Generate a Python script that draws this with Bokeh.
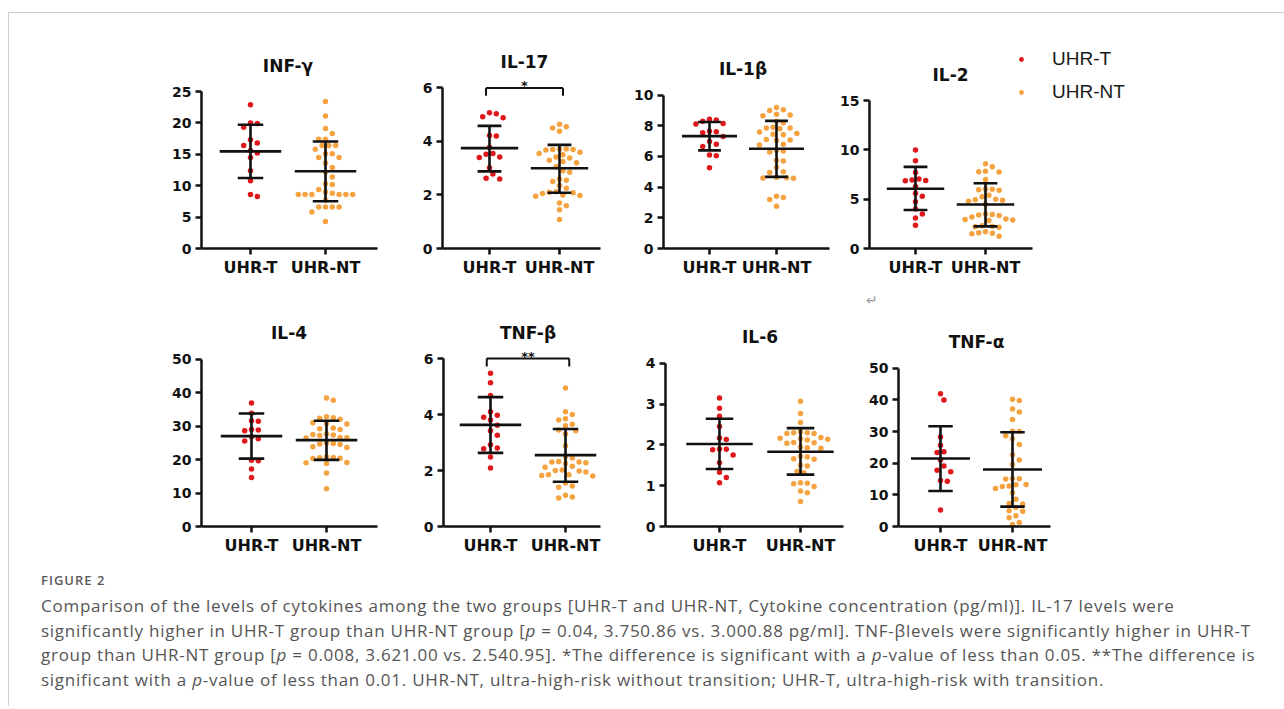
import numpy as np
from bokeh.plotting import figure
from bokeh.models import FixedTicker, Label, Arrow, Legend, LegendItem, Div, Spacer, ColumnDataSource
from bokeh.layouts import row, column
from bokeh.embed import file_html
from bokeh.resources import INLINE

# ---------------- data ----------------
groups = ["UHR-T", "UHR-NT"]
panel_names = ["INF-γ", "IL-17", "IL-1β", "IL-2", "IL-4", "TNF-β", "IL-6", "TNF-α"]
y_max = [25, 6, 10, 15, 50, 6, 4, 50]
y_step = [5, 2, 2, 5, 10, 2, 1, 10]
significance = ["", "*", "", "", "", "**", "", ""]

inf_gamma_t = [22.9, 20.0, 19.9, 19.3, 17.3, 16.8, 16.4, 15.6, 15.2, 14.5, 12.4, 10.8, 8.3, 8.6]
inf_gamma_nt = [23.4, 21.1, 19.1, 18.3, 17.4, 17.4, 16.4, 16.4, 16.4, 15.8, 15.1, 15.1, 14.5, 14.5,
                13.6, 12.9, 12.2, 11.4, 10.3, 10.2, 9.4, 9.0, 8.8, 8.6, 8.6, 8.6, 8.6, 8.6, 8.6,
                7.7, 6.6, 6.6, 6.6, 6.6, 5.8, 4.3]
il17_t = [5.07, 5.03, 4.92, 4.88, 4.22, 4.2, 3.78, 3.55, 3.52, 3.42, 3.4, 3.02, 2.78, 2.62, 2.6]
il17_nt = [4.64, 4.55, 4.5, 4.38, 3.72, 3.72, 3.7, 3.7, 3.68, 3.6, 3.55, 3.5, 3.42, 3.38, 3.3,
           3.25, 3.2, 3.05, 2.9, 2.85, 2.6, 2.55, 2.5, 2.35, 2.25, 2.12, 2.1, 2.08, 2.05, 2.0,
           1.98, 1.95, 1.7, 1.6, 1.45, 1.08]
il1b_t = [8.42, 8.38, 8.3, 8.15, 8.12, 7.65, 7.62, 7.55, 7.3, 6.98, 6.8, 6.65, 6.1, 6.05, 5.27]
il1b_nt = [9.2, 9.05, 9.0, 8.75, 8.7, 8.65, 8.3, 8.2, 7.9, 7.85, 7.85, 7.8, 7.6, 7.5, 7.45, 7.42,
           7.1, 7.08, 7.05, 6.8, 6.75, 6.4, 6.35, 6.3, 5.75, 5.7, 5.3, 5.0, 4.95, 4.65, 4.62,
           4.6, 4.58, 3.4, 3.32, 3.2, 2.75]
il2_t = [10.0, 8.9, 7.7, 7.05, 6.95, 6.9, 6.88, 6.3, 5.6, 5.3, 4.75, 4.0, 3.5, 3.1, 2.35]
il2_nt = [8.6, 8.3, 7.85, 7.8, 7.75, 7.0, 6.05, 6.0, 5.95, 5.9, 5.4, 5.25, 5.0, 4.95, 4.9, 4.8,
          4.5, 3.5, 3.45, 3.4, 3.35, 3.0, 2.95, 2.9, 2.85, 3.2, 2.3, 2.25, 2.2, 2.15, 1.7, 1.6,
          1.55, 1.5, 1.25]
il4_t = [36.9, 33.8, 31.6, 31.4, 29.0, 28.8, 28.6, 26.8, 26.2, 25.5, 19.8, 19.6, 17.2, 14.6]
il4_nt = [38.4, 37.7, 32.8, 32.5, 32.3, 32.0, 31.0, 30.8, 30.6, 29.4, 29.2, 29.0, 27.6, 27.5,
          27.3, 27.2, 26.6, 26.5, 26.4, 24.9, 24.8, 24.6, 24.5, 23.8, 23.6, 20.8, 20.6, 20.5,
          20.4, 20.3, 19.1, 19.0, 18.8, 16.0, 11.3]
tnfb_t = [5.47, 5.13, 4.68, 4.1, 3.97, 3.9, 3.8, 3.62, 3.42, 3.26, 2.92, 2.8, 2.78, 2.48, 2.09]
tnfb_nt = [4.95, 4.1, 4.0, 3.85, 3.8, 3.65, 3.6, 3.45, 3.42, 3.3, 2.88, 2.5, 2.45, 2.32, 2.3,
           2.3, 2.28, 2.25, 2.15, 2.12, 2.02, 2.0, 1.98, 1.95, 1.85, 1.85, 1.82, 1.8, 1.55,
           1.45, 1.4, 1.12, 1.05, 1.02]
il6_t = [3.15, 2.9, 2.7, 2.45, 2.17, 2.13, 1.9, 1.89, 1.88, 1.75, 1.56, 1.33, 1.2, 1.07]
il6_nt = [3.07, 2.77, 2.55, 2.32, 2.3, 2.3, 2.28, 2.28, 2.18, 2.16, 2.15, 2.14, 2.12, 2.06,
          2.05, 2.04, 1.95, 1.93, 1.92, 1.72, 1.7, 1.66, 1.65, 1.5, 1.48, 1.35, 1.32, 1.07,
          1.06, 1.05, 0.98, 0.87, 0.83, 0.61]
tnfa_t = [41.9, 40.0, 28.3, 25.7, 23.6, 23.4, 21.0, 19.1, 17.8, 17.3, 14.5, 14.3, 5.2]
tnfa_nt = [40.2, 39.8, 37.1, 36.2, 33.8, 30.1, 30.0, 28.7, 27.7, 25.9, 22.7, 21.0, 19.6, 15.2,
           15.1, 15.0, 13.3, 13.2, 12.8, 12.6, 12.0, 10.7, 8.6, 7.3, 7.1, 6.0, 5.0, 4.8, 3.4,
           2.8, 1.3, 0.6]

values_t = [inf_gamma_t, il17_t, il1b_t, il2_t, il4_t, tnfb_t, il6_t, tnfa_t]
values_nt = [inf_gamma_nt, il17_nt, il1b_nt, il2_nt, il4_nt, tnfb_nt, il6_nt, tnfa_nt]

mean_t = [15.47, 3.75, 7.33, 6.06, 26.97, 3.63, 2.02, 21.49]
sd_hi_t = [19.70, 4.58, 8.25, 8.28, 33.76, 4.62, 2.64, 31.66]
sd_lo_t = [11.23, 2.88, 6.40, 3.91, 20.28, 2.63, 1.41, 11.22]
mean_nt = [12.29, 3.00, 6.50, 4.47, 25.79, 2.55, 1.83, 18.03]
sd_hi_nt = [17.05, 3.87, 8.32, 6.62, 31.59, 3.48, 2.41, 29.77]
sd_lo_nt = [7.52, 2.08, 4.67, 2.25, 19.88, 1.60, 1.27, 6.29]

caption_title = "FIGURE 2"
caption_lines = [
    "Comparison of the levels of cytokines among the two groups [UHR-T and UHR-NT, Cytokine concentration (pg/ml)]. IL-17 levels were",
    "significantly higher in UHR-T group than UHR-NT group [<i>p</i> = 0.04, 3.750.86 vs. 3.000.88 pg/ml]. TNF-βlevels were significantly higher in UHR-T",
    "group than UHR-NT group [<i>p</i> = 0.008, 3.621.00 vs. 2.540.95]. *The difference is significant with a <i>p</i>-value of less than 0.05. **The difference is",
    "significant with a <i>p</i>-value of less than 0.01. UHR-NT, ultra-high-risk without transition; UHR-T, ultra-high-risk with transition.",
]
return_mark = "↵"

# ---------------- style / layout ----------------
RED = "#e0181b"
ORANGE = "#f4a340"
INK = "#111111"
FONT = "DejaVu Sans"

# frame (left, right, y=top-of-axis, y=0) and category tick x, in page pixels
frames = [
    (201, 377, 91, 248, 250, 325),
    (442, 600, 88, 250, 489, 559),
    (663, 829, 96, 252, 709, 776),
    (869, 1032, 102, 253, 915, 985),
    (201, 377, 359, 528, 251, 326),
    (443, 600, 358, 526, 490, 565),
    (665, 843, 363, 527, 719, 800),
    (898, 1050, 368, 527, 940, 1012),
]
slots = [(9, 400), (400, 612), (612, 835), (835, 1275),
         (9, 405), (405, 620), (620, 855), (855, 1275)]
row_tops = [13, 307]
row_heights = [280, 253]

DOT = 5.5
SEP = 6.8


def swarm_offsets(vals, px_per_y, d):
    vals = np.asarray(vals, float)
    order = np.argsort(-vals, kind="stable")
    placed = []
    off = np.zeros(len(vals))
    cands = [0.0]
    for k in range(1, 60):
        cands += [k * d / 2, -k * d / 2]
    for idx in order:
        y = vals[idx] * px_per_y
        for c in cands:
            if all((c - px) ** 2 + (y - py) ** 2 >= d * d * 0.98 for px, py in placed):
                off[idx] = c
                placed.append((c, y))
                break
    return off


def make_panel(i):
    L, R, T, B, tA, tB = frames[i]
    r = 0 if i < 4 else 1
    top, h = row_tops[r], row_heights[r]
    sx0, sx1 = slots[i]
    s = tB - tA
    ym = y_max[i]
    fh = B - T
    frame_top = top + 2
    frame_right = sx1 - 5 if i == 3 else R
    x0 = 1 - (tA - L) / s
    x_axis_end = 2 + (R - tB) / s
    x1 = 2 + (frame_right - tB) / s
    y1 = ym * (B - frame_top) / fh
    p = figure(width=sx1 - sx0, height=h, x_range=(x0, x1), y_range=(0, y1),
               min_border_left=L - sx0, min_border_right=sx1 - frame_right,
               min_border_top=frame_top - top, min_border_bottom=top + h - B,
               toolbar_location=None, output_backend="svg",
               outline_line_color=None, background_fill_color="white",
               border_fill_color="white")
    p.title.visible = False
    p.grid.visible = False
    for ax in (p.xaxis[0], p.yaxis[0]):
        ax.axis_line_width = 2.5
        ax.axis_line_color = INK
        ax.major_tick_line_width = 2.5
        ax.major_tick_line_color = INK
        ax.major_tick_in = 0
        ax.major_tick_out = 6
        ax.minor_tick_line_color = None
        ax.major_label_text_font = FONT
        ax.major_label_text_font_style = "bold"
        ax.major_label_text_color = INK
    p.xaxis.ticker = FixedTicker(ticks=[1, 2])
    p.xaxis.major_label_overrides = {1: groups[0], 2: groups[1]}
    p.xaxis.major_label_text_font_size = "16px"
    p.xaxis.major_label_standoff = 3
    p.xaxis.bounds = (x0, x_axis_end)
    p.yaxis.ticker = FixedTicker(ticks=list(range(0, ym + 1, y_step[i])))
    p.yaxis.major_label_text_font_size = "14px"
    p.yaxis.major_label_standoff = 4
    p.yaxis.bounds = (0, ym)

    renderers = []
    for g, (vals, col, mu, hi, lo) in enumerate([
            (values_t[i], RED, mean_t[i], sd_hi_t[i], sd_lo_t[i]),
            (values_nt[i], ORANGE, mean_nt[i], sd_hi_nt[i], sd_lo_nt[i])]):
        xc = g + 1
        off = swarm_offsets(vals, fh / ym, SEP) / s
        src = ColumnDataSource(dict(x=xc + off, y=vals))
        rr = p.scatter("x", "y", source=src, size=DOT, color=col, line_color=None)
        renderers.append(rr)
        p.segment(x0=[xc - 0.41, xc, xc - 0.17, xc - 0.17],
                  x1=[xc + 0.41, xc, xc + 0.17, xc + 0.17],
                  y0=[mu, lo, hi, lo], y1=[mu, hi, hi, lo],
                  line_color=INK, line_width=2.6)

    p.add_layout(Label(x=1.5, y=ym, y_offset=26, text=panel_names[i], text_align="center",
                       text_baseline="middle", text_font=FONT, text_font_style="bold",
                       text_font_size="17px", text_color=INK))

    if significance[i]:
        bx0, bx1 = 0.95, 2.05
        leg = 8 * ym / fh
        for (xa, ya, xb, yb) in [(bx0, ym, bx1, ym), (bx0, ym, bx0, ym - leg), (bx1, ym, bx1, ym - leg)]:
            p.add_layout(Arrow(x_start=xa, y_start=ya, x_end=xb, y_end=yb, end=None,
                               line_color=INK, line_width=2))
        p.add_layout(Label(x=1.5, y=ym, y_offset=2, text=significance[i], text_align="center",
                           text_baseline="alphabetic", text_font=FONT, text_font_style="bold",
                           text_font_size="13px", text_color=INK))

    if i == 3:
        legend = Legend(items=[LegendItem(label=groups[0], renderers=[renderers[0]]),
                               LegendItem(label=groups[1], renderers=[renderers[1]])],
                        location=(146, 144), padding=0, margin=0, spacing=9,
                        glyph_width=12, glyph_height=24, label_height=24,
                        label_standoff=25, border_line_color=None,
                        background_fill_alpha=0, label_text_font="Liberation Sans",
                        label_text_font_size="19px", label_text_color="#1a1a1a")
        p.add_layout(legend)
    return p


panels = [make_panel(i) for i in range(8)]

mark_row = row(Spacer(width=857, height=14),
               Div(text='<div style="font-family:\'DejaVu Sans\';font-size:14px;line-height:14px;'
                        'color:#9a9a9a;text-align:center;">' + return_mark + '</div>',
                   width=20, height=14, margin=0))

cap_html = (
    '<div style="padding-left:27px;font-family:\'Open Sans\';color:#555555;">'
    '<div style="margin-top:6px;font-size:13px;line-height:18px;font-weight:600;'
    'letter-spacing:1px;color:#5a5a5a;">' + caption_title + '</div>'
    '<div style="margin-top:5px;font-size:17px;line-height:24.5px;letter-spacing:0.74px;'
    'white-space:nowrap;">'
    + "<br>".join(caption_lines) + '</div></div>'
)
caption = Div(text=cap_html, width=1266, height=136)

inner = column(row(*panels[:4]), mark_row, row(*panels[4:]), caption,
               styles={"border-top": "1px solid #c8c8c8", "border-left": "1px solid #d2d2d2"})
page = column(Spacer(height=12, width=10), row(Spacer(width=8, height=10), inner))

open("out.html", "w").write(file_html(page, INLINE))
